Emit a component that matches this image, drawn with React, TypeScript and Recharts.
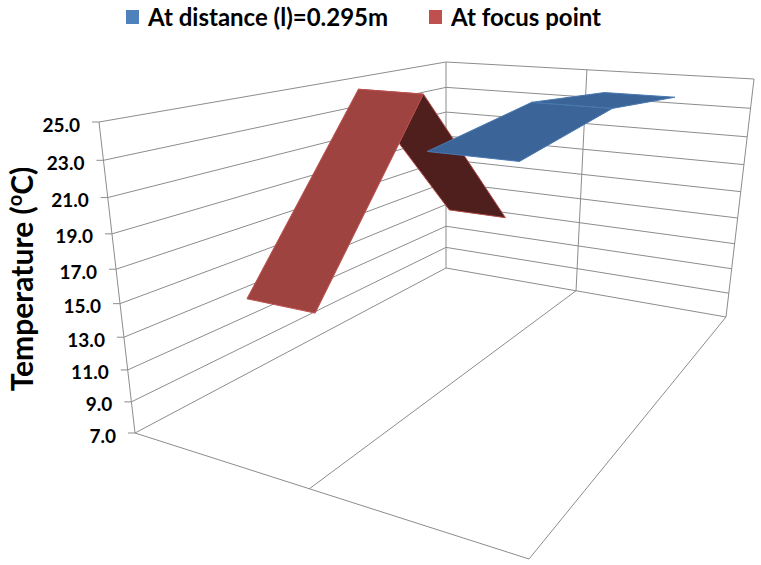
import { Area, ComposedChart, Line, Scatter, XAxis, YAxis } from 'recharts';

const WIDTH = 761;
const HEIGHT = 565;

// temperatures
const tempTicks = [25, 23, 21, 19, 17, 15, 13, 11, 9, 7];
const atDistance = [24, 24.95, 24.2];
const atFocus = [14.1, 24.95, 14.3];
const TEMP_MIN = 7;
const TEMP_MAX = 25;

// perspective box: corners of floor and ceiling, order (u0v0, u1v0, u1v1, u0v1)
type Pt = { x: number; y: number };
const floorBox: Pt[] = [{ x: 135, y: 433 }, { x: 529, y: 559 }, { x: 726, y: 317 }, { x: 446, y: 268 }];
const topBox: Pt[] = [{ x: 99, y: 122 }, { x: 540, y: 173 }, { x: 754, y: 79 }, { x: 446, y: 62 }];
const HEIGHT_PERSPECTIVE = -0.11;

function quadMap(q: Pt[]) {
  const [p0, p1, p2, p3] = q;
  const dx1 = p1.x - p2.x;
  const dx2 = p3.x - p2.x;
  const sx = p0.x - p1.x + p2.x - p3.x;
  const dy1 = p1.y - p2.y;
  const dy2 = p3.y - p2.y;
  const sy = p0.y - p1.y + p2.y - p3.y;
  const den = dx1 * dy2 - dx2 * dy1;
  const g = (sx * dy2 - dx2 * sy) / den;
  const i = (dx1 * sy - sx * dy1) / den;
  return (u: number, v: number): Pt => {
    const w = g * u + i * v + 1;
    return {
      x: ((p1.x - p0.x + g * p1.x) * u + (p3.x - p0.x + i * p3.x) * v + p0.x) / w,
      y: ((p1.y - p0.y + g * p1.y) * u + (p3.y - p0.y + i * p3.y) * v + p0.y) / w,
    };
  };
}

const floorAt = quadMap(floorBox);
const topAt = quadMap(topBox);

function project(u: number, v: number, temp: number): Pt {
  const h = (temp - TEMP_MIN) / (TEMP_MAX - TEMP_MIN);
  const s = (h * (1 + HEIGHT_PERSPECTIVE)) / (1 + HEIGHT_PERSPECTIVE * h);
  const a = floorAt(u, v);
  const b = topAt(u, v);
  return { x: a.x + (b.x - a.x) * s, y: a.y + (b.y - a.y) * s };
}

// a convex polygon as rows of [low, high] per x, so an Area can fill it
function polygonRows(poly: Pt[]) {
  const xs = [...new Set(poly.map((p) => p.x))].sort((a, b) => a - b);
  return xs.map((x) => {
    const ys: number[] = [];
    poly.forEach((p, idx) => {
      const q = poly[(idx + 1) % poly.length];
      if (x >= Math.min(p.x, q.x) && x <= Math.max(p.x, q.x)) {
        ys.push(p.x === q.x ? p.y : p.y + ((q.y - p.y) * (x - p.x)) / (q.x - p.x));
      }
    });
    return { x, range: [Math.min(...ys), Math.max(...ys)] };
  });
}

function ribbonFace(slot: number, values: number[], i: number) {
  const u0 = slot * 0.5 + 0.15;
  const u1 = slot * 0.5 + 0.35;
  const v0 = (i + 0.5) / values.length;
  const v1 = (i + 1.5) / values.length;
  return polygonRows([
    project(u0, v0, values[i]),
    project(u1, v0, values[i]),
    project(u1, v1, values[i + 1]),
    project(u0, v1, values[i + 1]),
  ]);
}

// walls, these sit behind the ribbons
const wallSegments: Pt[][] = [
  ...tempTicks.map((t) => [project(0, 0, t), project(0, 1, t)]),
  ...tempTicks.map((t) => [project(0, 1, t), project(1, 1, t)]),
  [project(0, 1, TEMP_MIN), project(0, 1, TEMP_MAX)],
  [project(1, 1, TEMP_MIN), project(1, 1, TEMP_MAX)],
  [project(0.5, 1, TEMP_MIN), project(0.5, 1, TEMP_MAX)],
];

// floor edges and the left axis never cross a ribbon
const floorSegments: Pt[][] = [
  [project(0, 0, TEMP_MIN), project(0, 0, TEMP_MAX)],
  [project(0, 0, TEMP_MIN), project(1, 0, TEMP_MIN)],
  [project(1, 0, TEMP_MIN), project(1, 1, TEMP_MIN)],
  [project(0.5, 0, TEMP_MIN), project(0.5, 1, TEMP_MIN)],
];

const tickRows = tempTicks.map((t) => ({ ...project(0, 0, t), label: t.toFixed(1) }));

const faces = [
  { key: 'focus-2', data: ribbonFace(0, atFocus, 1), fill: '#4f1f1d', stroke: '#b34a47' },
  { key: 'focus-1', data: ribbonFace(0, atFocus, 0), fill: '#9f4341', stroke: '#bd5350' },
  { key: 'dist-1', data: ribbonFace(1, atDistance, 0), fill: '#3b6598', stroke: '#4a78b0' },
  { key: 'dist-2', data: ribbonFace(1, atDistance, 1), fill: '#3b6598', stroke: '#4a78b0' },
];

const fontFamily = 'Lato, sans-serif';

const TickLabel = (p: any) => (
  <g>
    <line x1={p.cx - 7} y1={p.cy} x2={p.cx} y2={p.cy} stroke="#8c8c8c" strokeWidth={1} />
    <text x={p.cx - 19} y={p.cy + 2} textAnchor="end" dominantBaseline="central" fontFamily={fontFamily} fontWeight={700} fontSize={19} fill="#000">
      {p.payload.label}
    </text>
  </g>
);

const axes = (
  <>
    <XAxis hide type="number" dataKey="x" domain={[0, WIDTH]} />
    <YAxis hide type="number" dataKey="y" domain={[0, HEIGHT]} reversed />
  </>
);

const layer: React.CSSProperties = { position: 'absolute', left: 0, top: 0 };

function gridLines(segments: Pt[][]) {
  return segments.map((seg, i) => (
    <Line key={i} data={seg} dataKey="y" stroke="#8c8c8c" strokeWidth={1} dot={false} activeDot={false} legendType="none" isAnimationActive={false} />
  ));
}

function LegendEntry({ left, color, label }: { left: number; color: string; label: string }) {
  return (
    <div style={{ position: 'absolute', left, top: 0, whiteSpace: 'nowrap', fontFamily, fontWeight: 700, fontSize: 24, lineHeight: '34px', color: '#000' }}>
      <span style={{ position: 'absolute', left: 0, top: 10, width: 13, height: 14, background: color }} />
      <span style={{ marginLeft: 22 }}>{label}</span>
    </div>
  );
}

export default function App() {
  return (
    <div style={{ ...layer, width: WIDTH, height: HEIGHT, background: '#fff' }}>
      {/* two stacked charts so the walls stay behind the ribbons */}
      <div style={layer}>
        <ComposedChart width={WIDTH} height={HEIGHT} margin={{ top: 0, right: 0, bottom: 0, left: 0 }}>
          {axes}
          {gridLines(wallSegments)}
        </ComposedChart>
      </div>
      <div style={layer}>
        <ComposedChart width={WIDTH} height={HEIGHT} margin={{ top: 0, right: 0, bottom: 0, left: 0 }}>
          {axes}
          {gridLines(floorSegments)}
          {faces.map((f) => (
            <Area key={f.key} data={f.data} dataKey="range" type="linear" fill={f.fill} fillOpacity={1} stroke={f.stroke} strokeWidth={1} dot={false} activeDot={false} isAnimationActive={false} />
          ))}
          <Scatter data={tickRows} dataKey="y" shape={TickLabel} isAnimationActive={false} />
        </ComposedChart>
      </div>
      <LegendEntry left={126} color="#4f81bd" label="At distance (l)=0.295m" />
      <LegendEntry left={429} color="#c0504d" label="At focus point" />
      <div style={{ position: 'absolute', left: 21, top: 279, transform: 'translate(-50%, -50%) rotate(-90deg)', whiteSpace: 'nowrap', fontFamily, fontWeight: 700, fontSize: 30, color: '#000' }}>
        Temperature (<sup style={{ fontSize: 20, lineHeight: 0 }}>o</sup>C)
      </div>
    </div>
  );
}
